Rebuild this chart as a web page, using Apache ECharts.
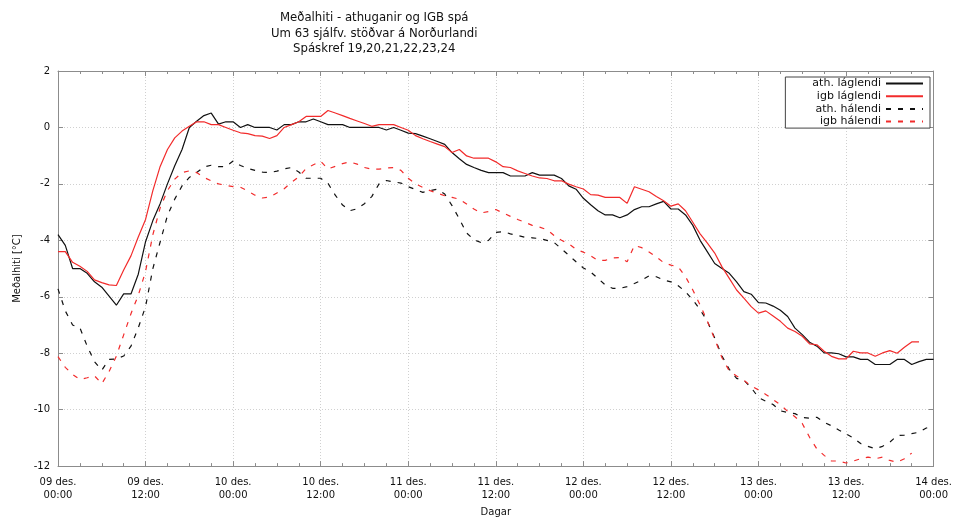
<!DOCTYPE html>
<html>
<head>
<meta charset="utf-8">
<script src="https://cdn.jsdelivr.net/npm/echarts@6/dist/echarts.min.js"></script>
<style>
  html, body { margin: 0; padding: 0; background: #fff; }
  #chart { width: 955px; height: 522px; }
</style>
</head>
<body>
<div id="chart"></div>
<script>
// Hourly mean temperature (°C), hour 0 = 09 des. 00:00
const athLaglendi = [
  -3.8, -4.18, -5.0, -5.0, -5.17, -5.47, -5.66, -5.98, -6.3, -5.9,
  -5.9, -5.2, -4.05, -3.3, -2.7, -2.0, -1.36, -0.78, 0.0, 0.22,
  0.42, 0.51, 0.12, 0.2, 0.2, 0.0, 0.1, 0.0, 0.0, 0.0,
  -0.09, 0.1, 0.1, 0.2, 0.2, 0.3, 0.2, 0.1, 0.1, 0.1,
  0.0, 0.0, 0.0, 0.0, 0.0, -0.09, 0.0, -0.1, -0.2, -0.22,
  -0.31, -0.4, -0.5, -0.6, -0.89, -1.11, -1.31, -1.42, -1.52, -1.6,
  -1.6, -1.6, -1.72, -1.72, -1.72, -1.6, -1.69, -1.69, -1.69, -1.81,
  -2.07, -2.19, -2.51, -2.74, -2.95, -3.1, -3.1, -3.2, -3.1, -2.91,
  -2.81, -2.81, -2.71, -2.62, -2.89, -2.89, -3.1, -3.47, -4.0, -4.41,
  -4.82, -5.0, -5.17, -5.47, -5.82, -5.91, -6.21, -6.22, -6.33, -6.48,
  -6.7, -7.11, -7.34, -7.61, -7.75, -7.99, -7.99, -8.02, -8.13, -8.13,
  -8.22, -8.22, -8.4, -8.4, -8.4, -8.22, -8.22, -8.4, -8.3, -8.22,
  -8.22
];
const igbLaglendi = [
  -4.4, -4.4, -4.78, -4.92, -5.1, -5.4, -5.5, -5.58, -5.6, -5.05,
  -4.55, -3.88, -3.26, -2.24, -1.38, -0.78, -0.37, -0.13, 0.04, 0.2,
  0.2, 0.1, 0.1, 0.0, -0.1, -0.19, -0.22, -0.29, -0.31, -0.39,
  -0.29, 0.0, 0.1, 0.2, 0.39, 0.39, 0.39, 0.6, 0.51, 0.42,
  0.32, 0.23, 0.14, 0.04, 0.1, 0.1, 0.1, 0.0, -0.1, -0.29,
  -0.4, -0.5, -0.59, -0.68, -0.89, -0.78, -1.01, -1.09, -1.09, -1.09,
  -1.22, -1.39, -1.42, -1.54, -1.63, -1.72, -1.79, -1.81, -1.89, -1.89,
  -2.01, -2.1, -2.18, -2.38, -2.4, -2.48, -2.48, -2.48, -2.69, -2.1,
  -2.19, -2.28, -2.45, -2.6, -2.79, -2.71, -2.95, -3.36, -3.77, -4.1,
  -4.45, -4.94, -5.35, -5.76, -6.05, -6.35, -6.58, -6.5, -6.68, -6.87,
  -7.11, -7.23, -7.4, -7.67, -7.7, -7.93, -8.11, -8.2, -8.2, -7.93,
  -7.99, -7.99, -8.11, -7.99, -7.91, -8.0, -7.79, -7.6, -7.6
];
const athHalendi = [
  -5.72, -6.5, -7.0, -7.1, -7.75, -8.3, -8.6, -8.22, -8.2, -8.1,
  -7.75, -7.1, -6.35, -5.0, -4.06, -3.12, -2.54, -2.07, -1.77, -1.6,
  -1.4, -1.34, -1.39, -1.39, -1.19, -1.35, -1.45, -1.52, -1.58, -1.6,
  -1.55, -1.47, -1.42, -1.58, -1.8, -1.8, -1.8, -1.98, -2.4, -2.75,
  -2.95, -2.88, -2.7, -2.45, -2.0, -1.88, -1.93, -1.97, -2.1, -2.2,
  -2.3, -2.24, -2.19, -2.36, -2.77, -3.24, -3.74, -3.98, -4.08, -4.0,
  -3.72, -3.69, -3.77, -3.83, -3.89, -3.91, -3.94, -4.0, -4.08, -4.3,
  -4.53, -4.76, -4.98, -5.12, -5.35, -5.58, -5.7, -5.7, -5.64, -5.53,
  -5.41, -5.26, -5.29, -5.41, -5.47, -5.61, -5.82, -6.11, -6.46, -6.87,
  -7.46, -8.1, -8.57, -8.89, -8.96, -9.22, -9.57, -9.7, -9.82, -10.04,
  -10.1, -10.14, -10.28, -10.3, -10.27, -10.45, -10.57, -10.72, -10.86, -11.0,
  -11.2, -11.3, -11.38, -11.3, -11.15, -10.92, -10.9, -10.85, -10.8, -10.65,
  -10.6
];
const igbHalendi = [
  -8.12, -8.5, -8.75, -8.93, -8.87, -8.8, -9.08, -8.65, -8.1, -7.35,
  -6.6, -5.95, -5.1, -3.8, -2.85, -2.24, -1.83, -1.6, -1.54, -1.6,
  -1.77, -1.89, -2.0, -2.05, -2.1, -2.12, -2.25, -2.4, -2.5, -2.47,
  -2.32, -2.17, -1.95, -1.75, -1.45, -1.32, -1.2, -1.47, -1.38, -1.28,
  -1.22, -1.3, -1.42, -1.48, -1.48, -1.44, -1.42, -1.52, -1.8, -2.0,
  -2.13, -2.24, -2.33, -2.42, -2.48, -2.54, -2.71, -2.89, -3.03, -2.98,
  -2.91, -3.03, -3.15, -3.26, -3.36, -3.47, -3.53, -3.62, -3.83, -4.0,
  -4.12, -4.32, -4.42, -4.55, -4.71, -4.71, -4.62, -4.61, -4.76, -4.18,
  -4.26, -4.41, -4.59, -4.79, -4.88, -4.94, -5.29, -5.76, -6.29, -6.87,
  -7.5, -8.16, -8.63, -8.81, -8.96, -9.16, -9.3, -9.46, -9.64, -9.83,
  -10.06, -10.25, -10.49, -10.98, -11.39, -11.62, -11.82, -11.82, -11.89, -11.82,
  -11.74, -11.68, -11.74, -11.68, -11.8, -11.86, -11.74, -11.54
];

// Tick labels every 12 hours
const xTickLabels = [
  '09 des.\n00:00', '09 des.\n12:00', '10 des.\n00:00', '10 des.\n12:00',
  '11 des.\n00:00', '11 des.\n12:00', '12 des.\n00:00', '12 des.\n12:00',
  '13 des.\n00:00', '13 des.\n12:00', '14 des.\n00:00'
];
const seriesNames = ['ath. láglendi', 'igb láglendi', 'ath. hálendi', 'igb hálendi'];

const toPoints = arr => arr.map((v, i) => [i, v]);

const chart = echarts.init(document.getElementById('chart'), null, { renderer: 'canvas' });

const frameColor = '#8c8c8c';
const gridLine = { show: true, lineStyle: { color: '#d0d0d0', type: [1, 2], width: 1 } };
const textFont = 'DejaVu Sans';

const baseX = {
  type: 'value', min: 0, max: 120, interval: 12,
  axisLine: { show: true, onZero: false, lineStyle: { color: frameColor, width: 1 } },
  axisTick: { show: true, inside: true, length: 5, lineStyle: { color: frameColor } },
  minorTick: { show: true, splitNumber: 4, length: 3, lineStyle: { color: frameColor } },
  minorSplitLine: { show: false }
};
const baseY = {
  type: 'value', min: -12, max: 2, interval: 2,
  axisLine: { show: true, onZero: false, lineStyle: { color: frameColor, width: 1 } },
  axisTick: { show: true, inside: true, length: 5, lineStyle: { color: frameColor } }
};

function lineSeries(name, data, color, dashed) {
  return {
    name, type: 'line', data: toPoints(data),
    xAxisIndex: 0, yAxisIndex: 0,
    symbol: 'none', smooth: false, animation: false,
    lineStyle: { color, width: 1.2, type: dashed ? [5, 7] : 'solid' },
    itemStyle: { color }
  };
}

chart.setOption({
  animation: false,
  backgroundColor: '#fff',
  title: {
    text: 'Meðalhiti - athuganir og IGB spá\nUm 63 sjálfv. stöðvar á Norðurlandi\nSpáskref 19,20,21,22,23,24',
    left: 'center', top: 5,
    textStyle: {
      fontFamily: 'DejaVu Sans Condensed, DejaVu Sans', fontSize: 13, fontWeight: 'normal',
      color: '#111', lineHeight: 15.5, align: 'center'
    },
    textAlign: 'center'
  },
  legend: {
    data: seriesNames,
    orient: 'vertical', align: 'right',
    right: 25, top: 77,
    itemWidth: 37, itemHeight: 10, itemGap: 1.7,
    padding: [1, 6, 1, 27],
    borderColor: '#444', borderWidth: 1, borderRadius: 0,
    backgroundColor: '#fff',
    itemStyle: { opacity: 0 },
    textStyle: { fontFamily: textFont, fontSize: 11, color: '#111', lineHeight: 10 }
  },
  grid: { left: 58, right: 18, top: 71, bottom: 53, containLabel: false },
  xAxis: [
    Object.assign({}, baseX, {
      position: 'bottom',
      name: 'Dagar', nameLocation: 'middle', nameGap: 40,
      nameTextStyle: { fontFamily: textFont, fontSize: 10, color: '#111' },
      axisLabel: {
        show: true, margin: 10, fontFamily: textFont, fontSize: 10, color: '#111', lineHeight: 13,
        formatter: v => xTickLabels[Math.round(v / 12)] || ''
      },
      splitLine: gridLine
    }),
    Object.assign({}, baseX, {
      position: 'top',
      axisLabel: { show: false },
      splitLine: { show: false }
    })
  ],
  yAxis: [
    Object.assign({}, baseY, {
      position: 'left',
      name: 'Meðalhiti [°C]', nameLocation: 'middle', nameGap: 36, nameRotate: 90,
      nameTextStyle: { fontFamily: textFont, fontSize: 10, color: '#111' },
      axisLabel: { show: true, margin: 8, fontFamily: textFont, fontSize: 10, color: '#111' },
      splitLine: gridLine
    }),
    Object.assign({}, baseY, {
      position: 'right',
      axisLabel: { show: false },
      splitLine: { show: false }
    })
  ],
  series: [
    lineSeries(seriesNames[0], athLaglendi, '#111111', false),
    lineSeries(seriesNames[1], igbLaglendi, '#f22b2b', false),
    lineSeries(seriesNames[2], athHalendi, '#111111', true),
    lineSeries(seriesNames[3], igbHalendi, '#f22b2b', true)
  ]
});
</script>
</body>
</html>
